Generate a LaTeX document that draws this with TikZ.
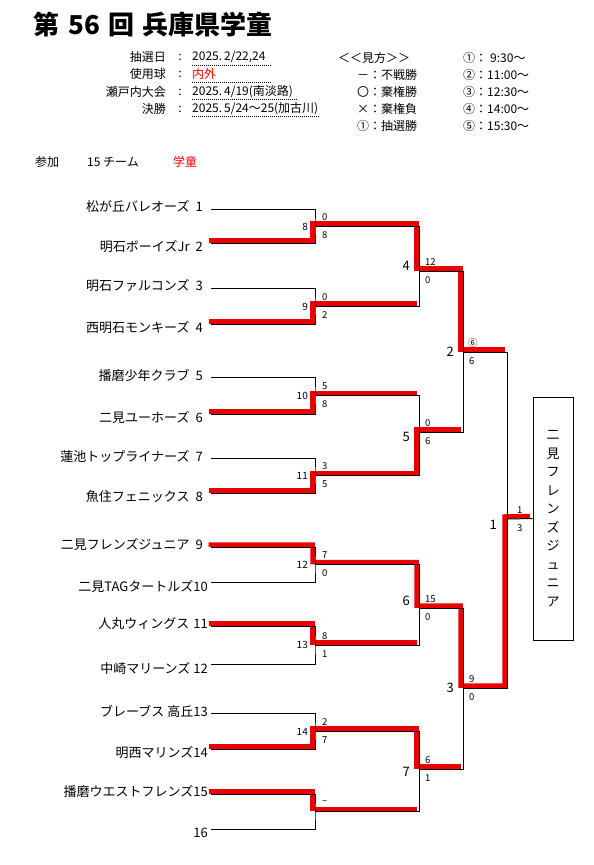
\documentclass[tikz,border=0pt]{standalone}
\usepackage{fontspec}
\setmainfont{Noto Sans CJK JP}
\definecolor{wincolor}{RGB}{235,0,0}
\definecolor{notecolor}{RGB}{255,0,0}
\usetikzlibrary{positioning, calc}

\begin{document}
\begin{tikzpicture}[x=1pt, y=-1pt,
    team/.style={anchor=east, inner sep=0pt, font=\fontsize{13}{13}\selectfont},
    score/.style={inner sep=0pt, font=\fontsize{9.5}{9.5}\selectfont},
    mnum/.style={anchor=east, inner sep=0pt, font=\fontsize{10}{10}\selectfont},
    rnum/.style={anchor=east, inner sep=0pt, font=\fontsize{13}{13}\selectfont},
    info/.style={anchor=west, inner sep=0pt, font=\fontsize{12}{12}\selectfont},
    infokey/.style={info, anchor=east},
    bline/.style={line width=1pt},
    win/.style={wincolor, line width=4.5pt, transform canvas={xshift=-2.5pt, yshift=2.5pt}},
    dotrule/.style={line width=0.8pt, dash pattern=on 1pt off 1pt}
]
  \useasboundingbox (0,0) rectangle (594,865);

  % Title and info
  \node[anchor=west, inner sep=0pt, font=\fontsize{26}{26}\selectfont\bfseries] (title) at (33,25)
    {第\hspace{9pt}56\hspace{9pt}回\hspace{8pt}兵庫県学童};

  \node[infokey] (k1) at (166,57) {抽選日};
  \node[infokey] (k2) at (166,74) {使用球};
  \node[infokey] (k3) at (166,92) {瀬戸内大会};
  \node[infokey] (k4) at (166,109) {決勝};
  \node[info, anchor=center] (c1) at (180,57) {:};
  \node[info, anchor=center] (c2x) at (180,74) {:};
  \node[info, anchor=center] (c3x) at (180,92) {:};
  \node[info, anchor=center] (c4) at (180,109) {:};
  \node[info] (v1) at (192,57) {2025.\,2/22,24};
  \node[info, notecolor] (v2) at (192,74) {内外};
  \node[info] (v3) at (192,92) {2025.\,4/19(南淡路)};
  \node[info] (v4) at (192,109) {2025.\,5/24～25(加古川)};
  \draw[dotrule] (192,65) -- (271,65);
  \draw[dotrule] (192,82) -- (271,82);
  \draw[dotrule] (192,99) -- (298,99);
  \draw[dotrule] (192,116) -- (319,116);

  % Legend
  \node[info] (lg0) at (338,58) {＜＜見方＞＞};
  \node[info] (lg1) at (357,75) {－：不戦勝};
  \node[info] (lg2) at (357,92) {〇：棄権勝};
  \node[info] (lg3) at (357,109) {×：棄権負};
  \node[info] (lg4) at (357,126) {①：抽選勝};
  \node[info] (tm1) at (463,58) {①：\hspace{3pt}9:30～};
  \node[info] (tm2) at (463,75) {②：11:00～};
  \node[info] (tm3) at (463,92) {③：12:30～};
  \node[info] (tm4) at (463,109) {④：14:00～};
  \node[info] (tm5) at (463,126) {⑤：15:30～};

  \node[info] (entry) at (35,162) {参加};
  \node[info] (count) at (87,162) {15 チーム};
  \node[info, notecolor] (grade) at (173,162) {学童};

  % Teams
  \node[team] (t1) at (203,207) {松が丘バレオーズ\hspace{6pt}1};
  \node[team] (t2) at (203,247) {明石ボーイズJr\hspace{6pt}2};
  \node[team] (t3) at (203,286) {明石ファルコンズ\hspace{6pt}3};
  \node[team] (t4) at (203,328) {西明石モンキーズ\hspace{6pt}4};
  \node[team] (t5) at (203,375) {播磨少年クラブ\hspace{6pt}5};
  \node[team] (t6) at (203,418) {二見ユーホーズ\hspace{6pt}6};
  \node[team] (t7) at (203,456) {蓮池トップライナーズ\hspace{6pt}7};
  \node[team] (t8) at (203,497) {魚住フェニックス\hspace{6pt}8};
  \node[team] (t9) at (203,545) {二見フレンズジュニア\hspace{6pt}9};
  \node[team] (t10) at (208,586) {二見TAGタートルズ10};
  \node[team] (t11) at (208,624) {人丸ウィングス\hspace{4pt}11};
  \node[team] (t12) at (208,668) {中崎マリーンズ\hspace{3pt}12};
  \node[team] (t13) at (208,711) {ブレーブス 高丘13};
  \node[team] (t14) at (208,753) {明西マリンズ14};
  \node[team] (t15) at (208,792) {播磨ウエストフレンズ15};
  \node[team] (t16) at (208,833) {16};

  % Bracket points
  \coordinate (p1) at (211,209);  \coordinate (p2) at (211,243);
  \coordinate (p3) at (211,288);  \coordinate (p4) at (211,324);
  \coordinate (p5) at (211,377);  \coordinate (p6) at (211,414);
  \coordinate (p7) at (211,458);  \coordinate (p8) at (211,493);
  \coordinate (p9) at (211,547);  \coordinate (p10) at (211,582);
  \coordinate (p11) at (211,626); \coordinate (p12) at (211,664);
  \coordinate (p13) at (211,713); \coordinate (p14) at (211,749);
  \coordinate (p15) at (211,794); \coordinate (p16) at (211,829);

  \coordinate (a8) at (315,226);    \coordinate (a9) at (315,306);
  \coordinate (a10) at (315,395.5); \coordinate (a11) at (315,475.5);
  \coordinate (a12) at (315,564.5); \coordinate (a13) at (315,645);
  \coordinate (a14) at (315,731);   \coordinate (a15) at (315,811.5);

  \coordinate (b4) at (419,271); \coordinate (b5) at (419,432);
  \coordinate (b6) at (419,608); \coordinate (b7) at (419,769);

  \coordinate (c2) at (463,352); \coordinate (c3) at (463,688);

  \coordinate (f1) at (507,519);

  % Champion
  \node[draw, line width=1pt, minimum width=40pt, minimum height=243pt, inner sep=0pt,
        align=center, font=\fontsize{13}{18.5}\selectfont] (champ) at (553,518.5)
    {二\\見\\フ\\レ\\ン\\ズ\\ジ\\ュ\\ニ\\ア};

  % Winning paths
  \draw[win] (p2) -| (a8) -| (b4) -| (c2) -- (c2 -| f1);
  \draw[win] (p4) -| (a9) -- (a9 -| b4);
  \draw[win] (p6) -| (a10) -- (a10 -| b5);
  \draw[win] (p8) -| (a11) -| (b5) -- (b5 -| c2);
  \draw[win] (p9) -| (a12) -| (b6) -| (c3) -| (f1) -- (champ.west);
  \draw[win] (p11) -| (a13) -- (a13 -| b6);
  \draw[win] (p14) -| (a14) -| (b7) -- (b7 -| c3);
  \draw[win] (p15) -| (a15) -- (a15 -| b7);

  % First round
  \draw[bline] (p1) -| (a8) |- (p2);
  \draw[bline] (p3) -| (a9) |- (p4);
  \draw[bline] (p5) -| (a10) |- (p6);
  \draw[bline] (p7) -| (a11) |- (p8);
  \draw[bline] (p9) -| (a12) |- (p10);
  \draw[bline] (p11) -| (a13) |- (p12);
  \draw[bline] (p13) -| (a14) |- (p14);
  \draw[bline] (p15) -| (a15) |- (p16);

  % Later rounds
  \draw[bline] (a8) -| (b4);  \draw[bline] (a9) -| (b4);
  \draw[bline] (a10) -| (b5); \draw[bline] (a11) -| (b5);
  \draw[bline] (a12) -| (b6); \draw[bline] (a13) -| (b6);
  \draw[bline] (a14) -| (b7); \draw[bline] (a15) -| (b7);
  \draw[bline] (b4) -| (c2);  \draw[bline] (b5) -| (c2);
  \draw[bline] (b6) -| (c3);  \draw[bline] (b7) -| (c3);
  \draw[bline] (c2) -| (f1);  \draw[bline] (c3) -| (f1);
  \draw[bline] (f1) -- (champ.west);

  % Match numbers
  \node[mnum] (m8) at (308,227) {8};
  \node[mnum] (m9) at (308,307) {9};
  \node[mnum] (m10) at (308,396) {10};
  \node[mnum] (m11) at (308,476) {11};
  \node[mnum] (m12) at (308,565) {12};
  \node[mnum] (m13) at (308,645) {13};
  \node[mnum] (m14) at (308,732) {14};
  \node[rnum] (m4) at (410,266) {4};
  \node[rnum] (m5) at (410,437) {5};
  \node[rnum] (m6) at (410,601) {6};
  \node[rnum] (m7) at (410,772) {7};
  \node[rnum] (m2) at (454,352) {2};
  \node[rnum] (m3) at (454,688) {3};
  \node[rnum] (m1) at (497,525) {1};

  % Scores
  \node[score, right=7pt of a8, yshift=9pt] (s8t) {0};
  \node[score, right=7pt of a8, yshift=-9pt] (s8b) {8};
  \node[score, right=7pt of a9, yshift=9pt] (s9t) {0};
  \node[score, right=7pt of a9, yshift=-9pt] (s9b) {2};
  \node[score, right=7pt of a10, yshift=9pt] (s10t) {5};
  \node[score, right=7pt of a10, yshift=-9pt] (s10b) {8};
  \node[score, right=7pt of a11, yshift=9pt] (s11t) {3};
  \node[score, right=7pt of a11, yshift=-9pt] (s11b) {5};
  \node[score, right=7pt of a12, yshift=9pt] (s12t) {7};
  \node[score, right=7pt of a12, yshift=-9pt] (s12b) {0};
  \node[score, right=7pt of a13, yshift=9pt] (s13t) {8};
  \node[score, right=7pt of a13, yshift=-9pt] (s13b) {1};
  \node[score, right=7pt of a14, yshift=9pt] (s14t) {2};
  \node[score, right=7pt of a14, yshift=-9pt] (s14b) {7};
  \node[score, right=7pt of a15, yshift=9pt] (s15t) {–};
  \node[score, right=6pt of b4, yshift=9pt] (s4t) {12};
  \node[score, right=6pt of b4, yshift=-9pt] (s4b) {0};
  \node[score, right=6pt of b5, yshift=9pt] (s5t) {0};
  \node[score, right=6pt of b5, yshift=-9pt] (s5b) {6};
  \node[score, right=6pt of b6, yshift=9pt] (s6t) {15};
  \node[score, right=6pt of b6, yshift=-9pt] (s6b) {0};
  \node[score, right=6pt of b7, yshift=9pt] (s7t) {6};
  \node[score, right=6pt of b7, yshift=-9pt] (s7b) {1};
  \node[score, right=5pt of c2, yshift=9pt] (s2t) {⑥};
  \node[score, right=6pt of c2, yshift=-9pt] (s2b) {6};
  \node[score, right=6pt of c3, yshift=9pt] (s3t) {9};
  \node[score, right=6pt of c3, yshift=-9pt] (s3b) {0};
  \node[score, right=10pt of f1, yshift=9pt] (s1t) {1};
  \node[score, right=10pt of f1, yshift=-9pt] (s1b) {3};
\end{tikzpicture}
\end{document}
